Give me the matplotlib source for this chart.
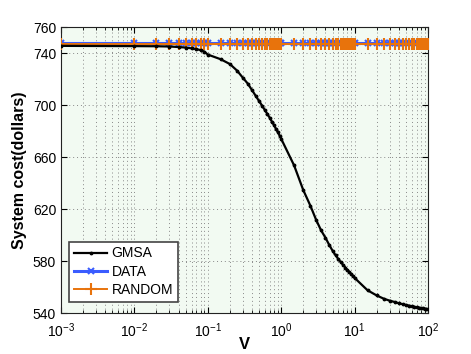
import matplotlib
matplotlib.use("Agg")
import matplotlib.pyplot as plt
import numpy as np

plt.rcParams["font.family"] = ["Liberation Sans", "DejaVu Sans"]

# sampled V values (log x axis)
v_vals = [0.001,
          0.01, 0.02, 0.03, 0.04, 0.05, 0.06, 0.07, 0.08, 0.09,
          0.1, 0.15, 0.2, 0.25, 0.3, 0.35, 0.4, 0.45, 0.5, 0.55,
          0.6, 0.65, 0.7, 0.75, 0.8, 0.85, 0.9, 0.95,
          1.0, 1.5, 2.0, 2.5, 3.0, 3.5, 4.0, 4.5, 5.0, 5.5,
          6.0, 6.5, 7.0, 7.5, 8.0, 8.5, 9.0, 9.5,
          10, 15, 20, 25, 30, 35, 40, 45, 50, 55,
          60, 65, 70, 75, 80, 85, 90, 95, 100]

gmsa = [745.5,
        745.3, 745.2, 745.0, 744.6, 744.2, 743.6, 743.0, 742.2, 741.0,
        738.8, 735.2, 731.5, 726.5, 721.0, 716.5, 711.5, 707.0, 703.0, 699.5,
        696.0, 693.0, 690.0, 687.0, 684.5, 681.5, 679.0, 676.5,
        674.0, 653.5, 634.5, 622.5, 611.5, 603.5, 598.0, 592.5, 588.0, 584.5,
        581.5, 579.0, 577.0, 575.0, 573.0, 571.5, 570.0, 568.5,
        567.0, 557.5, 553.5, 551.0, 549.5, 548.5, 547.5, 546.8, 546.2, 545.7,
        545.2, 544.8, 544.4, 544.1, 543.8, 543.5, 543.3, 543.1, 543.0]

data_cost = [747.5] * len(v_vals)
random_cost = [747.3] * len(v_vals)

fig = plt.figure(figsize=(4.71, 3.54), dpi=100)
ax = fig.add_axes([0.1295, 0.1158, 0.7792, 0.8079])
ax.set_facecolor("#F2FAF2")

ax.plot(v_vals, data_cost, color="#3A5CFF", lw=2.2, marker="x", ms=5, mew=1.5, label="DATA", zorder=3)
ax.plot(v_vals, random_cost, color="#E8730C", lw=1.4, marker="+", ms=9, mew=1.5, label="RANDOM", zorder=4)
ax.plot(v_vals, gmsa, color="black", lw=1.6, marker=".", ms=3.5, label="GMSA", zorder=5)

ax.set_xscale("log")
ax.set_xlim(1e-3, 1e2)
ax.set_ylim(540, 760)
ax.set_yticks([540, 580, 620, 660, 700, 740, 760])
ax.set_xticks([1e-3, 1e-2, 1e-1, 1, 10, 100])

ax.grid(True, which="major", axis="both", ls=(0, (1, 3)), color="#888888", lw=0.7)
ax.grid(True, which="minor", axis="x", ls=(0, (1, 3)), color="#888888", lw=0.7)

ax.tick_params(which="both", direction="in", top=True, right=True, labelsize=10)
ax.tick_params(which="major", length=4)
ax.tick_params(which="minor", length=2)
ax.tick_params(axis="x", which="major", pad=6)
for s in ax.spines.values():
    s.set_color("#222222")
    s.set_linewidth(0.8)

ax.set_xlabel("V", fontsize=12, fontweight="bold")
ax.xaxis.set_label_coords(0.5, -0.085)
ax.set_ylabel("System cost(dollars)", fontsize=11.5, fontweight="bold", labelpad=4)

h, l = ax.get_legend_handles_labels()
order = [2, 0, 1]
leg = ax.legend([h[i] for i in order], [l[i] for i in order], loc="lower left",
                bbox_to_anchor=(0.022, 0.04), fontsize=10, fancybox=False,
                framealpha=1, edgecolor="#444444", borderaxespad=0,
                handlelength=2.4, handletextpad=0.3, labelspacing=0.3,
                borderpad=0.35)
leg.get_frame().set_linewidth(1.2)

fig.savefig("out.png", dpi=100)
